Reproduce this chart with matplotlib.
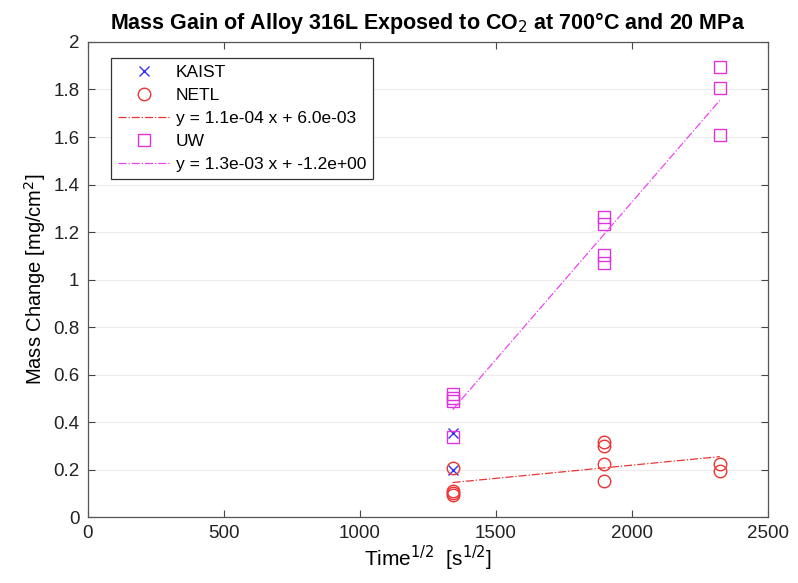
import numpy as np
import matplotlib
matplotlib.use("Agg")
import matplotlib.pyplot as plt

plt.rcParams['font.family'] = ['Liberation Sans', 'DejaVu Sans']

# Data (Time^1/2 in s^1/2, mass change in mg/cm^2)
kaist_x = [1341.6, 1341.6]
kaist_y = [0.356, 0.200]

netl_x = [1341.6, 1341.6, 1341.6, 1341.6, 1897.4, 1897.4, 1897.4, 1897.4, 2323.8, 2323.8]
netl_y = [0.205, 0.112, 0.102, 0.095, 0.315, 0.300, 0.222, 0.150, 0.225, 0.195]

uw_x = [1341.6, 1341.6, 1341.6, 1341.6, 1897.4, 1897.4, 1897.4, 1897.4, 2323.8, 2323.8, 2323.8]
uw_y = [0.520, 0.500, 0.490, 0.338, 1.262, 1.232, 1.105, 1.070, 1.893, 1.808, 1.610]

netl_label = "y = 1.1e-04 x + 6.0e-03"
uw_label = "y = 1.3e-03 x + -1.2e+00"

x_ticks = [0, 500, 1000, 1500, 2000, 2500]
y_ticks = [0, 0.2, 0.4, 0.6, 0.8, 1.0, 1.2, 1.4, 1.6, 1.8, 2.0]
y_ticklabels = ["0", "0.2", "0.4", "0.6", "0.8", "1", "1.2", "1.4", "1.6", "1.8", "2"]

fig = plt.figure(figsize=(7.98, 5.83), dpi=100)
ax = fig.add_axes([0.110, 0.113, 0.852, 0.815])

ax.plot(kaist_x, kaist_y, linestyle='none', marker='x', color='#3333ee', ms=7, mew=1.0, label='KAIST')
ax.plot(netl_x, netl_y, linestyle='none', marker='o', mfc='none', mec='#ee3333', ms=9, mew=1.0, label='NETL')
p1 = np.polyfit(netl_x, netl_y, 1)
xs1 = np.array([min(netl_x), max(netl_x)])
ax.plot(xs1, np.polyval(p1, xs1), linestyle='-.', color='#ee3333', lw=0.9, label=netl_label)
ax.plot(uw_x, uw_y, linestyle='none', marker='s', mfc='none', mec='#dd33dd', ms=8, mew=1.0, label='UW')
p2 = np.polyfit(uw_x, uw_y, 1)
xs2 = np.array([min(uw_x), max(uw_x)])
ax.plot(xs2, np.polyval(p2, xs2), linestyle='-.', color='#ee44ee', lw=0.9, label=uw_label)

ax.set_xlim(0, 2500)
ax.set_ylim(0, 2)
ax.set_xticks(x_ticks)
ax.set_yticks(y_ticks)
ax.set_yticklabels(y_ticklabels)
ax.tick_params(direction='in', top=True, right=True, labelsize=13.5, length=5, color='#444444', pad=6,
               labelcolor='#222222')
ax.yaxis.grid(True, color='#ececec', lw=0.8)
ax.set_axisbelow(True)
for s in ax.spines.values():
    s.set_color('#555555')
    s.set_linewidth(0.9)

ax.set_xlabel(r'Time$^{1/2}$  [s$^{1/2}$]', fontsize=15, labelpad=1)
ax.set_ylabel(r'Mass Change [mg/cm$^2$]', fontsize=14.5, labelpad=4)
ax.set_title(r'Mass Gain of Alloy 316L Exposed to CO$_2$ at 700°C and 20 MPa', fontsize=15.5,
             fontweight='bold', pad=9)

leg = ax.legend(loc='upper left', bbox_to_anchor=(0.022, 0.985), fontsize=12.5, frameon=True, fancybox=False,
                edgecolor='#333333', framealpha=1, handlelength=3.0, borderpad=0.4, labelspacing=0.45,
                handletextpad=0.3)
leg.get_frame().set_linewidth(0.9)

fig.savefig('out.png', dpi=100)
